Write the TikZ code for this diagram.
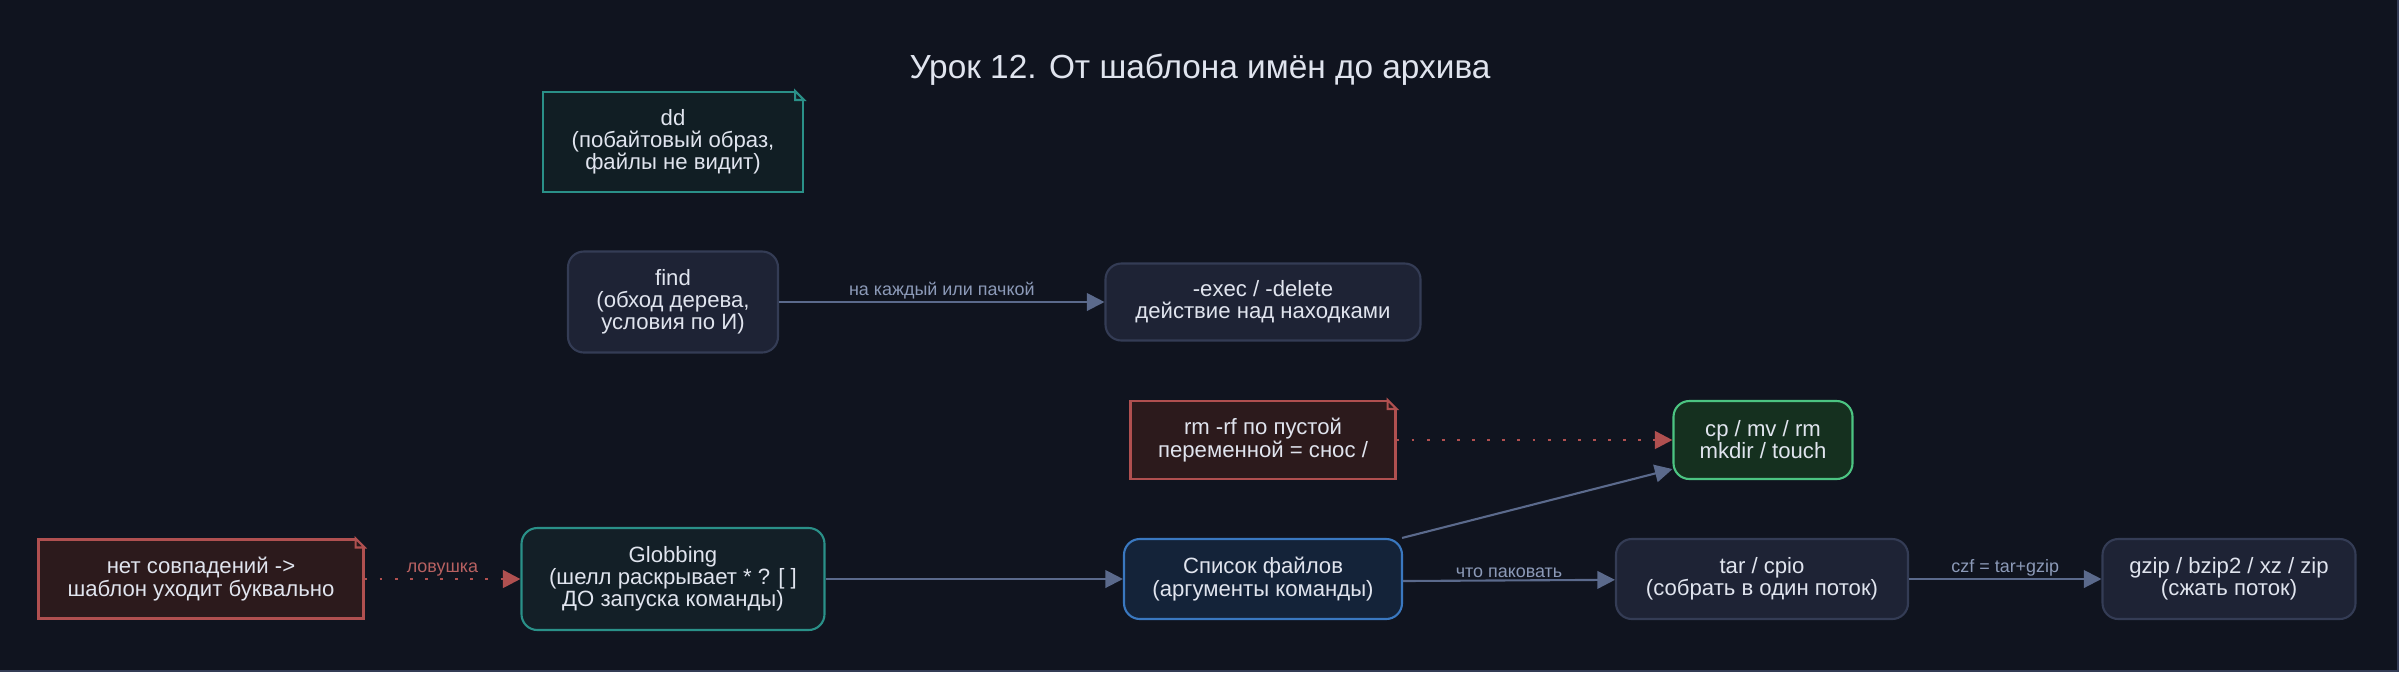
\documentclass[tikz,border=0pt]{standalone}
\usepackage{fontspec}
\setmainfont{Liberation Sans}
\usetikzlibrary{arrows.meta}
\definecolor{bg}{HTML}{10141F}
\definecolor{nfill}{HTML}{1E2335}
\definecolor{ndraw}{HTML}{343C55}
\definecolor{tealc}{HTML}{2A9088}
\definecolor{tfill}{HTML}{131F27}
\definecolor{bfill}{HTML}{142339}
\definecolor{bdraw}{HTML}{3A78C0}
\definecolor{gfill}{HTML}{15301F}
\definecolor{gdraw}{HTML}{4CC482}
\definecolor{rfill}{HTML}{2C1A1C}
\definecolor{rdraw}{HTML}{B05050}
\definecolor{txt}{HTML}{E0E4EE}
\definecolor{edge}{HTML}{5B6A8C}
\definecolor{elab}{HTML}{8C9AB8}
\definecolor{ddfill}{HTML}{111E24}
\tikzset{
 base/.style={align=center,text=txt,font=\fontsize{6.3}{6.3}\selectfont,line width=0.6pt,inner sep=0pt},
 rbox/.style={base,rounded corners=4.5pt,fill=nfill,draw=ndraw},
 notebox/.style={base,fill=rfill,draw=rdraw},
 conn/.style={draw=edge,line width=0.6pt,-{Triangle[length=5pt,width=5pt]}},
 redconn/.style={draw=rdraw,line width=0.8pt,dash pattern=on 0.8pt off 3.5pt,-{Triangle[length=5pt,width=5pt]}},
 elabel/.style={text=elab,font=\fontsize{5.1}{5.5}\selectfont,above,inner sep=0.5pt}
}
\newcommand{\fold}[2]{\fill[bg] ([xshift=-0.09cm]#1.north east) -- ([xshift=0.05cm,yshift=0.05cm]#1.north east) -- ([yshift=-0.09cm]#1.north east) -- cycle;
\draw[#2,line width=0.6pt] ([xshift=-0.09cm]#1.north east) -- ([yshift=-0.09cm]#1.north east) -- ([yshift=-0.09cm,xshift=-0.09cm]#1.north east) -- cycle;}
\begin{document}
\begin{tikzpicture}
\fill[bg] (0,0) rectangle (23.99,-6.72);
\useasboundingbox (0,0) rectangle (23.99,-6.72);
\draw[ndraw,line width=0.5pt] (0,-6.71) -- (23.98,-6.71) -- (23.98,0);
\node[text=txt,font=\fontsize{9.5}{10}\selectfont] (title) at (12.0,-0.70) {Урок 12. От шаблона имён до архива};
\node[base,fill=ddfill,draw=tealc,minimum width=2.6cm,minimum height=1.0cm] (dd) at (6.73,-1.42) {dd\\(побайтовый образ,\\файлы не видит)};
\fold{dd}{tealc}
\node[rbox,minimum width=2.1cm,minimum height=1.01cm] (find) at (6.73,-3.02) {find\\(обход дерева,\\условия по И)};
\node[rbox,minimum width=3.15cm,minimum height=0.77cm] (exec) at (12.63,-3.02) {-exec / -delete\\действие над находками};
\node[notebox,minimum width=2.65cm,minimum height=0.78cm] (rm) at (12.63,-4.40) {rm -rf по пустой\\переменной = снос /};
\fold{rm}{rdraw}
\node[rbox,fill=gfill,draw=gdraw,minimum width=1.79cm,minimum height=0.78cm] (cp) at (17.63,-4.40) {cp / mv / rm\\mkdir / touch};
\node[notebox,minimum width=3.25cm,minimum height=0.79cm] (nm) at (2.01,-5.79) {нет совпадений ->\\шаблон уходит буквально};
\fold{nm}{rdraw}
\node[rbox,fill=tfill,draw=tealc,minimum width=3.03cm,minimum height=1.02cm] (glob) at (6.73,-5.79) {Globbing\\(шелл раскрывает * ? [ ]\\ДО запуска команды)};
\node[rbox,fill=bfill,draw=bdraw,minimum width=2.78cm,minimum height=0.8cm] (list) at (12.63,-5.79) {Список файлов\\(аргументы команды)};
\node[rbox,minimum width=2.92cm,minimum height=0.8cm] (tar) at (17.62,-5.79) {tar / cpio\\(собрать в один поток)};
\node[rbox,minimum width=2.53cm,minimum height=0.8cm] (gz) at (22.29,-5.79) {gzip / bzip2 / xz / zip\\(сжать поток)};
\draw[conn] (find) -- node[elabel]{на каждый или пачкой} (exec);
\draw[redconn] (rm) -- (cp);
\draw[redconn] (nm) -- node[elabel,text=rdraw!90!white]{ловушка} (glob);
\draw[conn] (glob) -- (list);
\draw[conn] ([xshift=-0.01cm]list.north east) -- ([yshift=0.11cm]cp.south west);
\draw[conn] ([yshift=-0.02cm]list.east) -- node[elabel]{что паковать} (tar);
\draw[conn] (tar) -- node[elabel]{czf = tar+gzip} (gz);
\end{tikzpicture}
\end{document}
